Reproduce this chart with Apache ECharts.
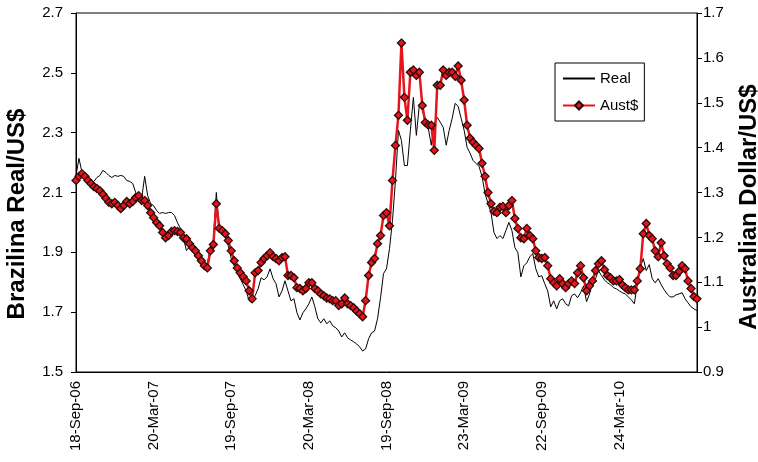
<!DOCTYPE html>
<html>
<head>
<meta charset="utf-8">
<script src="https://cdn.jsdelivr.net/npm/echarts@6/dist/echarts.min.js"></script>
<style>
html,body{margin:0;padding:0;background:#fff;}
#chart{width:758px;height:462px;}
</style>
</head>
<body>
<div id="chart"></div>
<script>
// Tick labels shown along the x axis (every 26 weeks)
const tickLabels = ['18-Sep-06','20-Mar-07','19-Sep-07','20-Mar-08','19-Sep-08','23-Mar-09','22-Sep-09','24-Mar-10'];

// Brazilian Real per US$ (left axis), weekly readings from 18-Sep-06
const real = [
2.157,2.214,2.167,2.147,2.133,2.130,2.137,2.150,2.157,2.174,
2.167,2.157,2.150,2.157,2.154,2.157,2.154,2.140,2.137,2.130,
2.100,2.087,2.080,2.154,2.090,2.063,2.056,2.040,2.030,2.033,
2.030,2.033,2.033,2.023,1.999,1.979,1.946,1.906,1.919,1.906,
1.889,1.879,1.865,1.859,1.865,1.912,1.939,2.100,1.979,1.966,
1.953,1.922,1.879,1.855,1.832,1.812,1.792,1.771,1.738,1.731,
1.755,1.778,1.815,1.808,1.818,1.845,1.812,1.795,1.751,1.771,
1.805,1.771,1.738,1.745,1.698,1.674,1.698,1.711,1.728,1.751,
1.718,1.678,1.664,1.678,1.661,1.671,1.654,1.648,1.637,1.617,
1.631,1.614,1.607,1.601,1.594,1.584,1.570,1.577,1.611,1.631,
1.637,1.678,1.748,1.829,1.845,1.912,2.006,2.140,2.308,2.274,
2.190,2.190,2.308,2.418,2.291,2.392,2.375,2.341,2.315,2.258,
2.331,2.351,2.335,2.318,2.258,2.308,2.348,2.398,2.388,2.348,
2.308,2.251,2.231,2.207,2.197,2.187,2.154,2.097,2.063,2.033,
1.966,1.946,1.956,1.946,1.973,2.000,1.973,1.916,1.899,1.818,
1.855,1.865,1.885,1.896,1.845,1.818,1.822,1.795,1.771,1.718,
1.738,1.711,1.738,1.745,1.728,1.721,1.755,1.761,1.748,1.765,
1.788,1.735,1.761,1.798,1.812,1.839,1.822,1.808,1.798,1.792,
1.782,1.778,1.771,1.765,1.761,1.751,1.741,1.728,1.792,1.849,
1.879,1.839,1.859,1.812,1.798,1.812,1.792,1.775,1.761,1.751,
1.751,1.758,1.761,1.765,1.745,1.731,1.718,1.711,1.705
];

// Australian dollar per US$ (right axis), weekly readings from 18-Sep-06
const aust = [
1.327,1.336,1.342,1.336,1.327,1.320,1.313,1.309,1.304,1.296,
1.287,1.278,1.275,1.278,1.271,1.264,1.271,1.280,1.275,1.280,
1.289,1.293,1.282,1.282,1.271,1.255,1.244,1.233,1.226,1.211,
1.199,1.204,1.213,1.215,1.213,1.211,1.199,1.197,1.186,1.177,
1.170,1.159,1.148,1.137,1.132,1.170,1.184,1.275,1.220,1.215,
1.208,1.193,1.170,1.148,1.132,1.121,1.112,1.103,1.081,1.063,
1.121,1.126,1.144,1.153,1.159,1.166,1.157,1.153,1.148,1.155,
1.157,1.115,1.115,1.110,1.088,1.086,1.081,1.086,1.099,1.099,
1.086,1.081,1.074,1.070,1.065,1.063,1.059,1.059,1.048,1.052,
1.065,1.052,1.048,1.043,1.036,1.030,1.023,1.059,1.115,1.144,
1.153,1.186,1.204,1.249,1.255,1.226,1.327,1.405,1.472,1.633,
1.512,1.461,1.568,1.573,1.561,1.568,1.494,1.456,1.450,1.450,
1.394,1.539,1.539,1.573,1.561,1.568,1.568,1.559,1.582,1.550,
1.506,1.450,1.421,1.412,1.405,1.398,1.365,1.336,1.300,1.275,
1.258,1.255,1.267,1.269,1.255,1.271,1.282,1.242,1.220,1.199,
1.197,1.220,1.204,1.197,1.170,1.155,1.153,1.155,1.137,1.108,
1.099,1.092,1.108,1.097,1.088,1.097,1.103,1.097,1.121,1.137,
1.110,1.081,1.092,1.103,1.126,1.141,1.148,1.128,1.115,1.110,
1.103,1.103,1.106,1.094,1.088,1.083,1.083,1.083,1.103,1.130,
1.208,1.231,1.204,1.197,1.170,1.157,1.188,1.159,1.141,1.132,
1.115,1.115,1.124,1.137,1.130,1.103,1.086,1.068,1.063
];

// weekly category dates
const categories = real.map((_, i) => {
  const d = new Date(Date.UTC(2006, 8, 18 + 7 * i));
  return d.toISOString().slice(0, 10);
});

const FONT = '"Liberation Sans", Arial, sans-serif';
const chart = echarts.init(document.getElementById('chart'), null, {renderer: 'canvas'});
chart.setOption({
  animation: false,
  backgroundColor: '#fff',
  textStyle: {fontFamily: FONT, color: '#000'},
  grid: {left: 76, right: 61, top: 13, bottom: 90, show: true, borderColor: '#000', borderWidth: 1, containLabel: false},
  legend: {
    data: [
      {name: 'Real', itemStyle: {color: 'rgba(0,0,0,0)', borderColor: 'rgba(0,0,0,0)', borderWidth: 0, opacity: 0}},
      {name: 'Aust$'}
    ],
    orient: 'vertical',
    left: 555, top: 63,
    backgroundColor: '#fff',
    borderColor: '#000', borderWidth: 1,
    padding: [8, 6, 8, 7],
    itemWidth: 32, itemHeight: 10, itemGap: 12,
    textStyle: {fontSize: 15, color: '#000', fontFamily: FONT}
  },
  xAxis: {
    type: 'category',
    data: categories,
    boundaryGap: false,
    axisLine: {lineStyle: {color: '#000', width: 1}},
    axisTick: {show: false},
    splitLine: {show: false},
    axisLabel: {
      interval: 25,
      rotate: 90,
      margin: 9,
      fontSize: 15,
      color: '#000',
      fontFamily: FONT,
      formatter: (v, idx) => tickLabels[idx / 26] || ''
    }
  },
  yAxis: [
    {
      type: 'value', min: 1.5, max: 2.7, interval: 0.2, position: 'left',
      axisLine: {show: true, lineStyle: {color: '#000', width: 1}},
      axisTick: {show: true, inside: false, length: 5, lineStyle: {color: '#000'}},
      splitLine: {show: false},
      axisLabel: {fontSize: 15, color: '#000', margin: 13, fontFamily: FONT,
        formatter: v => v.toFixed(1)}
    },
    {
      type: 'value', min: 0.9, max: 1.7, interval: 0.1, position: 'right',
      axisLine: {show: true, lineStyle: {color: '#000', width: 1}},
      axisTick: {show: true, inside: false, length: 5, lineStyle: {color: '#000'}},
      splitLine: {show: false},
      axisLabel: {fontSize: 15, color: '#000', margin: 6, fontFamily: FONT,
        formatter: v => (Math.abs(v - 1) < 1e-9 ? '1' : String(Math.round(v * 10) / 10))}
    }
  ],
  graphic: [
    {type: 'text', x: 17, y: 214, rotation: Math.PI / 2,
      style: {text: 'Brazilina Real/US$', font: 'bold 24px ' + FONT, fill: '#000', align: 'center', verticalAlign: 'middle'}},
    {type: 'text', x: 749, y: 207, rotation: Math.PI / 2,
      style: {text: 'Australian Dollar/US$', font: 'bold 24px ' + FONT, fill: '#000', align: 'center', verticalAlign: 'middle'}}
  ],
  series: [
    {
      name: 'Real', type: 'line', yAxisIndex: 0, data: real,
      symbol: 'none', showSymbol: false,
      lineStyle: {color: '#000', width: 1},
      itemStyle: {color: '#000'},
      z: 2
    },
    {
      name: 'Aust$', type: 'line', yAxisIndex: 1, data: aust,
      symbol: 'diamond', symbolSize: 8, showSymbol: true, showAllSymbol: true,
      lineStyle: {color: '#e8141b', width: 2.5},
      itemStyle: {color: '#e8141b', borderColor: '#2b0b0b', borderWidth: 1.3},
      z: 3
    }
  ]
});
</script>
</body>
</html>
